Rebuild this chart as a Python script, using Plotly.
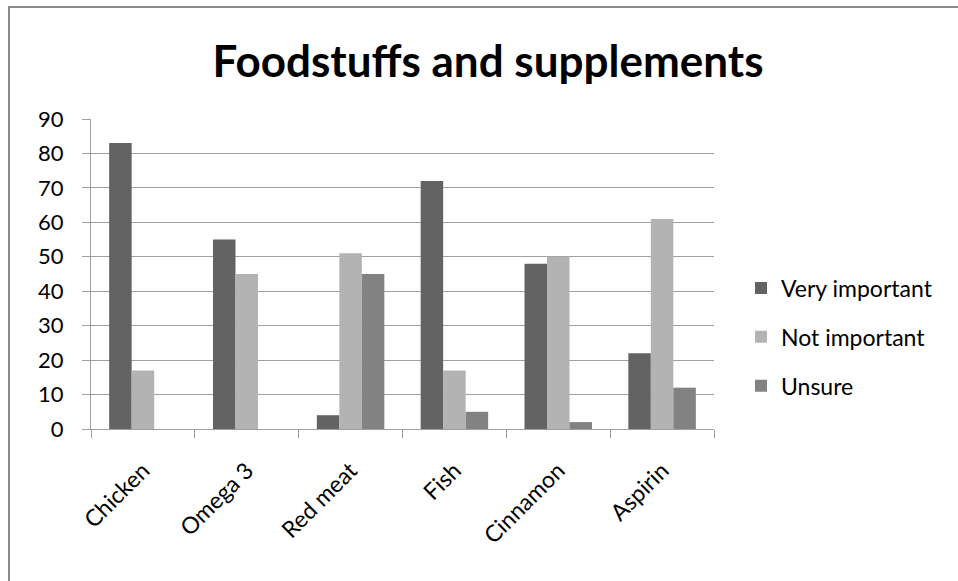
import plotly.graph_objects as go

categories = ["Chicken", "Omega 3", "Red meat", "Fish", "Cinnamon", "Aspirin"]
very_important = [83, 55, 4, 72, 48, 22]
not_important = [17, 45, 51, 17, 50, 61]
unsure = [0, 0, 45, 5, 2, 12]
y_ticks = [0, 10, 20, 30, 40, 50, 60, 70, 80, 90]

FONT = "Lato"
W, H = 958, 581
L, R, T, B = 91, 244, 119, 152
pw, ph = W - L - R, H - T - B

fig = go.Figure()
for i, (name, vals, col) in enumerate([("Very important", very_important, "#636363"),
                                       ("Not important", not_important, "#b3b3b3"),
                                       ("Unsure", unsure, "#828282")]):
    fig.add_trace(go.Bar(x=categories, y=vals, name=name, legendgroup=f"g{i}",
                         marker=dict(color=col, line=dict(width=0))))

fig.update_layout(
    width=W, height=H,
    margin=dict(l=L, r=R, t=T, b=B),
    paper_bgcolor="white", plot_bgcolor="white",
    barmode="group", bargap=0.35, bargroupgap=0,
    font=dict(family=FONT, color="#000000", size=22),
    title=dict(text="<b>Foodstuffs and supplements</b>", x=488 / W, xanchor="center",
               y=1 - 62 / H, yanchor="middle",
               font=dict(family=FONT, size=44, color="#000000")),
    legend=dict(x=(741 - L) / pw, xanchor="left", y=(H - B - 337) / ph, yanchor="middle",
                font=dict(family=FONT, size=23), itemsizing="constant",
                tracegroupgap=16, bgcolor="rgba(0,0,0,0)"),
    showlegend=True,
    shapes=[dict(type="rect", xref="paper", yref="paper",
                 x0=-(L - 9) / pw, x1=1 + (R + 20) / pw,
                 y0=-(B + 20) / ph, y1=1 + (T - 7) / ph,
                 line=dict(color="#8c8c8c", width=2))],
)
fig.update_xaxes(
    type="category", tickson="boundaries", ticks="outside", ticklen=8,
    tickcolor="#a0a0a0", showline=True, linecolor="#a0a0a0", linewidth=1,
    tickangle=-45, showgrid=False, tickfont=dict(family=FONT, size=23),
    ticklabelstandoff=18,
)
fig.update_yaxes(
    range=[0, 90], tickvals=y_ticks, ticks="outside", ticklen=8,
    tickcolor="#a0a0a0", showline=True, linecolor="#a0a0a0", linewidth=1,
    showgrid=True, gridcolor="#a0a0a0", gridwidth=1, zeroline=False,
    tickfont=dict(family=FONT, size=22), ticklabelstandoff=14,
)

fig.write_html("out.html", config={"displayModeBar": False},
               post_script="document.body.style.margin='0px';")
